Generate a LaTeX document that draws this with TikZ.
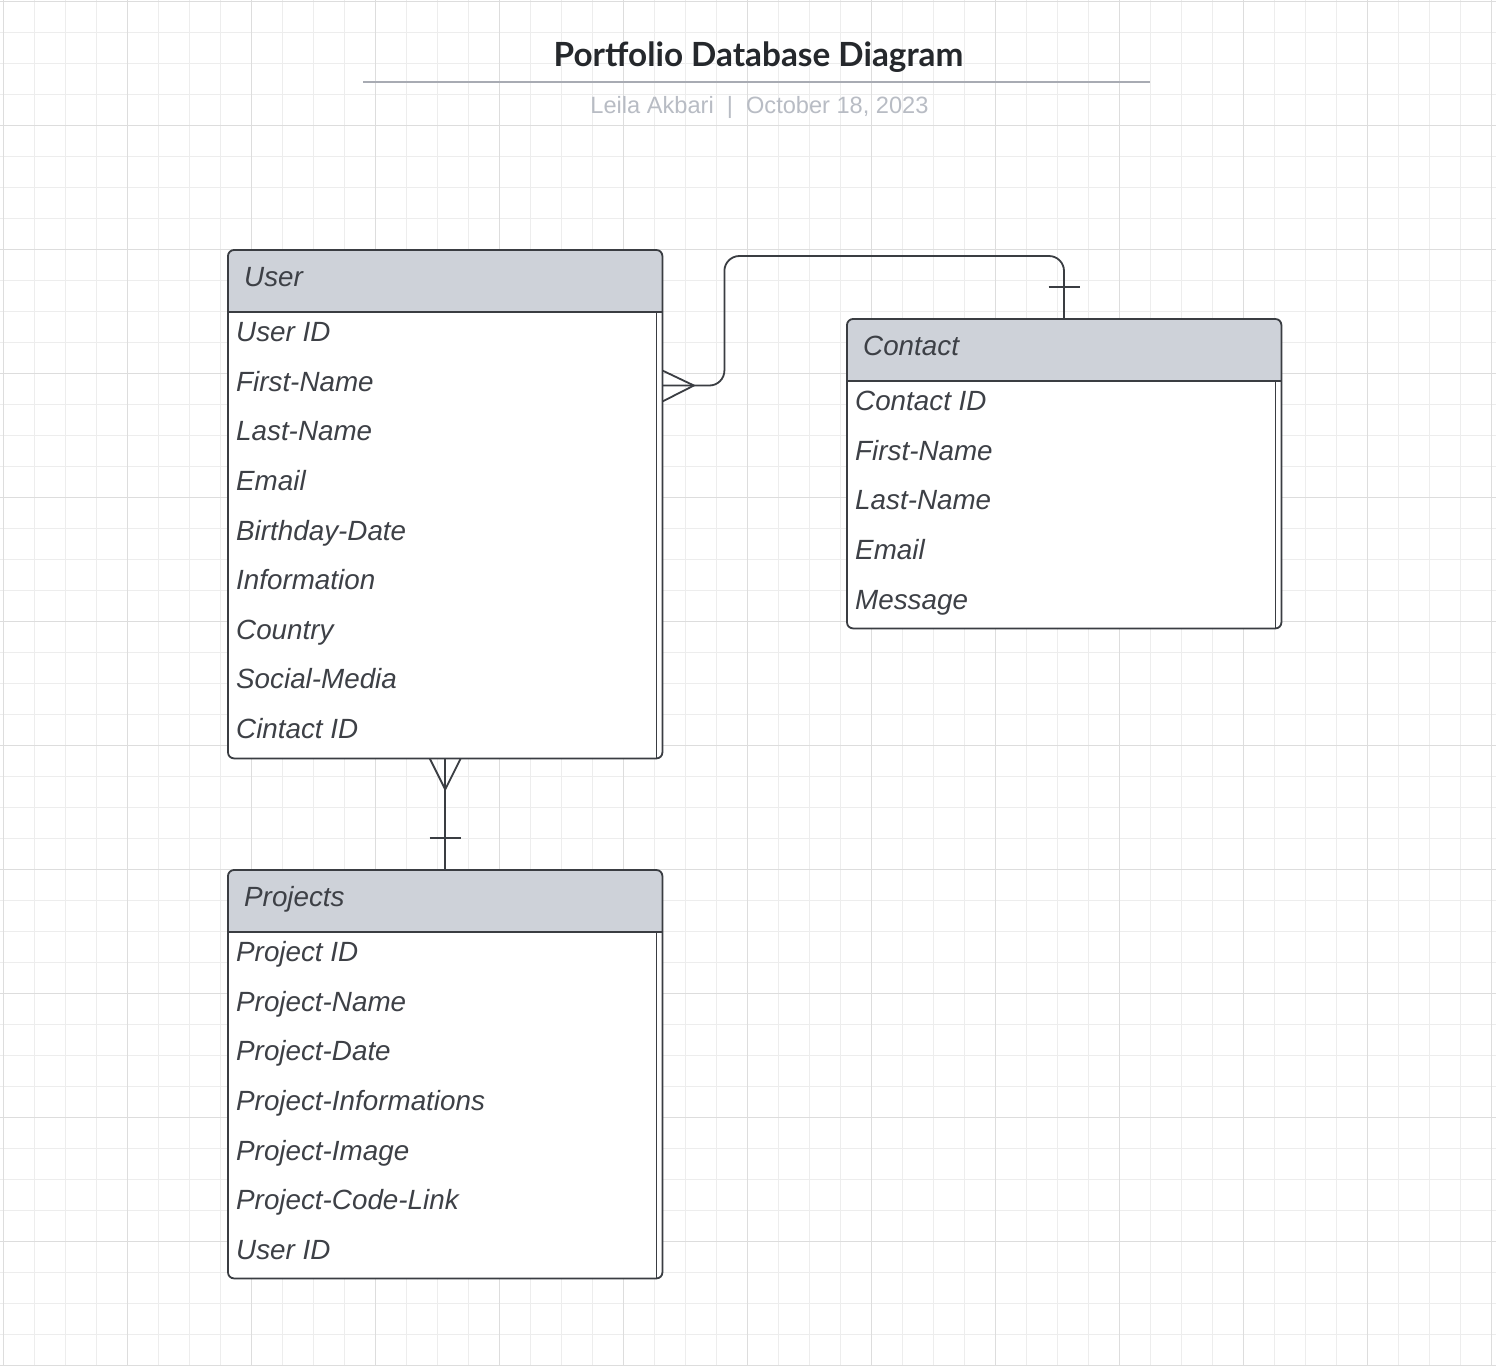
\documentclass[tikz,border=0pt]{standalone}
\usepackage{fontspec}
\setmainfont{Liberation Sans}
\newfontfamily\latofont{Lato}

\definecolor{gridminor}{HTML}{EDEDED}
\definecolor{gridmajor}{HTML}{DDDDDD}
\definecolor{edgegray}{HTML}{3A3D42}
\definecolor{hdrgray}{HTML}{CED2D9}
\definecolor{txtgray}{HTML}{3D4046}
\definecolor{rulegray}{HTML}{A8ABB3}
\definecolor{subgray}{HTML}{B8BCC4}
\definecolor{titleblack}{HTML}{25282C}

\begin{document}
\begin{tikzpicture}[x=1pt, y=-1pt,
    gridline/.style={draw=gridminor, line width=1pt},
    gridbold/.style={draw=gridmajor, line width=1.2pt},
    entity/.style={rectangle, rounded corners=6pt, fill=white, inner sep=0pt,
      minimum width=434pt, anchor=north west},
    boxline/.style={draw=edgegray, line width=1.8pt, rounded corners=6pt},
    divider/.style={draw=edgegray, line width=1.6pt},
    enttitle/.style={anchor=base west, inner sep=0pt, text=txtgray,
      font=\fontsize{27.8}{27.8}\selectfont\itshape},
    field/.style={anchor=base west, inner sep=0pt, text=txtgray,
      font=\fontsize{27.8}{27.8}\selectfont\itshape},
    conn/.style={draw=edgegray, line width=1.8pt}]

    % Fondo y cuadricula
    \useasboundingbox (0,0) rectangle (1496,1366);
    \fill[white] (0,0) rectangle (1496,1366);
    \foreach \gx in {3.3,34.3,...,1492} \draw[gridline] (\gx,0) -- (\gx,1366);
    \foreach \gy in {1.3,32.3,...,1366} \draw[gridline] (0,\gy) -- (1496,\gy);
    \foreach \gx in {3.3,127.3,...,1492} \draw[gridbold] (\gx,0) -- (\gx,1366);
    \foreach \gy in {1.3,125.3,...,1366} \draw[gridbold] (0,\gy) -- (1496,\gy);

    % Titulo
    \node[anchor=base, inner sep=0pt, text=titleblack,
      font=\latofont\bfseries\fontsize{33.3}{33.3}\selectfont] (heading) at (758.5,66.5) {Portfolio Database Diagram};
    \coordinate (rule-w) at (363,82);
    \coordinate (rule-e) at (1150,82);
    \draw[rulegray, line width=2.5pt] (rule-w) -- (rule-e);
    \node[anchor=base, inner sep=0pt, text=subgray,
      font=\fontsize{23.6}{23.6}\selectfont] (byline) at (759.5,113.3) {Leila Akbari\ \ |\ \ October 18, 2023};

    % Tabla User
    \node[entity, minimum height=508pt] (user) at (228,250) {};
    \begin{scope}
      \clip[rounded corners=6pt] (user.north west) rectangle (user.south east);
      \fill[hdrgray] (user.north west) rectangle ([yshift=-62pt]user.north east);
    \end{scope}
    \draw[divider] ([yshift=-62pt]user.north west) -- ([yshift=-62pt]user.north east);
    \draw[divider] ([xshift=-6pt,yshift=-62pt]user.north east) -- ([xshift=-6pt]user.south east);
    \draw[boxline] (user.north west) rectangle (user.south east);
    \node[enttitle] (user-title) at (244,286.7) {User};
    \foreach \f [count=\i] in {User ID, First-Name, Last-Name, Email, Birthday-Date,
      Information, Country, Social-Media, Cintact ID}
      \node[field] (user-\i) at (236,{292.1+49.6*\i}) {\f};

    % Tabla Contact
    \node[entity, minimum height=309pt] (contact) at (847,319) {};
    \begin{scope}
      \clip[rounded corners=6pt] (contact.north west) rectangle (contact.south east);
      \fill[hdrgray] (contact.north west) rectangle ([yshift=-62pt]contact.north east);
    \end{scope}
    \draw[divider] ([yshift=-62pt]contact.north west) -- ([yshift=-62pt]contact.north east);
    \draw[divider] ([xshift=-6pt,yshift=-62pt]contact.north east) -- ([xshift=-6pt]contact.south east);
    \draw[boxline] (contact.north west) rectangle (contact.south east);
    \node[enttitle] (contact-title) at (863,355.5) {Contact};
    \foreach \f [count=\i] in {Contact ID, First-Name, Last-Name, Email, Message}
      \node[field] (contact-\i) at (855,{361.1+49.6*\i}) {\f};

    % Tabla Projects
    \node[entity, minimum height=408pt] (projects) at (228,870) {};
    \begin{scope}
      \clip[rounded corners=6pt] (projects.north west) rectangle (projects.south east);
      \fill[hdrgray] (projects.north west) rectangle ([yshift=-62pt]projects.north east);
    \end{scope}
    \draw[divider] ([yshift=-62pt]projects.north west) -- ([yshift=-62pt]projects.north east);
    \draw[divider] ([xshift=-6pt,yshift=-62pt]projects.north east) -- ([xshift=-6pt]projects.south east);
    \draw[boxline] (projects.north west) rectangle (projects.south east);
    \node[enttitle] (projects-title) at (244,906.5) {Projects};
    \foreach \f [count=\i] in {Project ID, Project-Name, Project-Date, Project-Informations,
      Project-Image, Project-Code-Link, User ID}
      \node[field] (projects-\i) at (236,{912.1+49.6*\i}) {\f};

    % Relacion User - Contact
    \coordinate (user-fk) at ([yshift=-135.5pt]user.north east);
    \coordinate (contact-pk) at ([xshift=217pt]contact.north west);
    \draw[conn, rounded corners=15pt] (user-fk) -- ++(62,0) -- ++(0,-129.5) -| (contact-pk);
    \draw[conn] ([yshift=15pt]user-fk) -- ++(31.5,15) -- ([yshift=-16pt]user-fk);
    \draw[conn] ([xshift=-15.5pt,yshift=32pt]contact-pk) -- ++(31,0);

    % Relacion User - Projects
    \draw[conn] (user.south) -- (projects.north);
    \draw[conn] ([xshift=-15.5pt]user.south) -- ++(15.5,31) -- ([xshift=15.5pt]user.south);
    \draw[conn] ([xshift=-15.5pt,yshift=32pt]projects.north) -- ++(31,0);

\end{tikzpicture}
\end{document}
